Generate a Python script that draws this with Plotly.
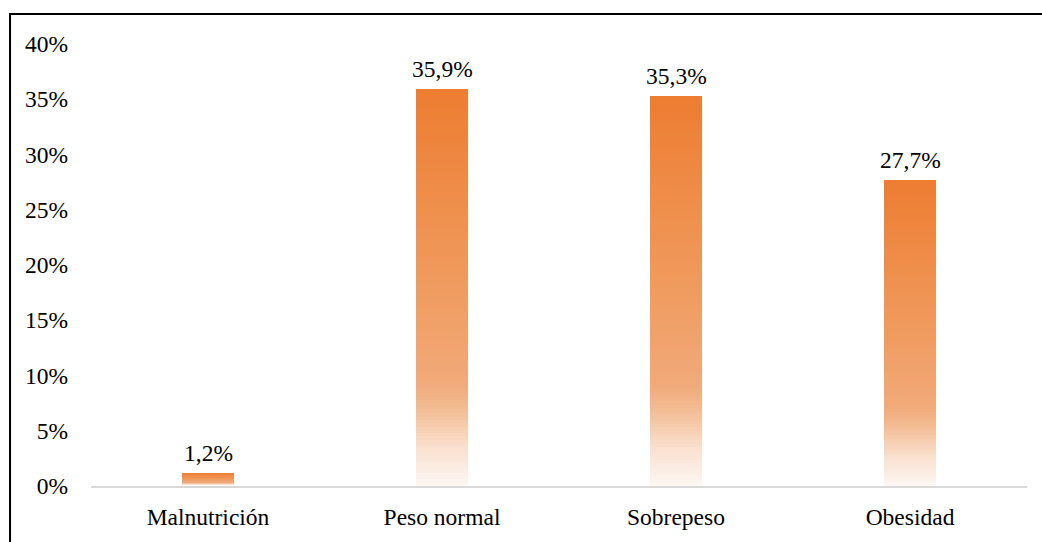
import plotly.graph_objects as go

# Estado nutricional: porcentaje de participantes por categoría
categorias = ["Malnutrición", "Peso normal", "Sobrepeso", "Obesidad"]
porcentajes = [1.2, 35.9, 35.3, 27.7]
ticks_y = [0, 5, 10, 15, 20, 25, 30, 35, 40]

FONT = "Liberation Serif, Times New Roman, serif"
SIZE = 23.5

# Vertical gradient stops (fraction measured from the top of each bar)
stops = [
    (0.00, (237, 125, 49)),
    (0.50, (240, 156, 96)),
    (0.74, (241, 170, 122)),
    (0.80, (243, 188, 147)),
    (0.90, (249, 224, 207)),
    (1.00, (253, 248, 245)),
]


def color_at(f):
    for (f0, c0), (f1, c1) in zip(stops, stops[1:]):
        if f <= f1:
            t = 0 if f1 == f0 else (f - f0) / (f1 - f0)
            r, g, b = (round(a + (bb - a) * t) for a, bb in zip(c0, c1))
            return f"rgb({r},{g},{b})"
    r, g, b = stops[-1][1]
    return f"rgb({r},{g},{b})"


N = 120
fig = go.Figure()
# Each layer spans from 0 up to a shrinking share of the bar; later layers
# cover the lower part, leaving a band of the colour for that height.
for i in range(N):
    share = 1 - i / N
    fig.add_trace(go.Bar(
        x=categorias,
        y=[v * share for v in porcentajes],
        width=0.225,
        marker=dict(color=color_at(i / N), line=dict(width=0)),
        hoverinfo="skip",
        showlegend=False,
    ))

for c, v in zip(categorias, porcentajes):
    fig.add_annotation(
        x=c, y=v, text=f"{v:.1f}".replace(".", ",") + "%",
        showarrow=False, yanchor="bottom", yshift=5,
        font=dict(family=FONT, size=SIZE, color="#000000"),
    )

# Outer frame around the chart
fig.add_shape(
    type="rect", xref="paper", yref="paper",
    x0=-0.0865, x1=1.2, y0=-0.3, y1=1.068,
    line=dict(color="#000000", width=2), fillcolor="rgba(0,0,0,0)",
    layer="above",
)

fig.update_layout(
    width=1042, height=542,
    margin=dict(l=90.5, r=15, t=44, b=51),
    paper_bgcolor="white", plot_bgcolor="white",
    barmode="overlay", bargap=0,
    font=dict(family=FONT, size=SIZE, color="#000000"),
    showlegend=False,
)
fig.update_xaxes(
    range=[-0.5, 3.5], showline=True, linecolor="#D9D9D9", linewidth=2,
    showgrid=False, ticks="", ticklabelstandoff=9, zeroline=False,
    tickfont=dict(family=FONT, size=SIZE, color="#000000"),
)
fig.update_yaxes(
    range=[0, 40], tickvals=ticks_y, ticktext=[f"{t}%" for t in ticks_y],
    showgrid=False, zeroline=False, showline=False, ticks="",
    ticklabelstandoff=22,
    tickfont=dict(family=FONT, size=SIZE, color="#000000"),
)

fig.write_html("out.html")
